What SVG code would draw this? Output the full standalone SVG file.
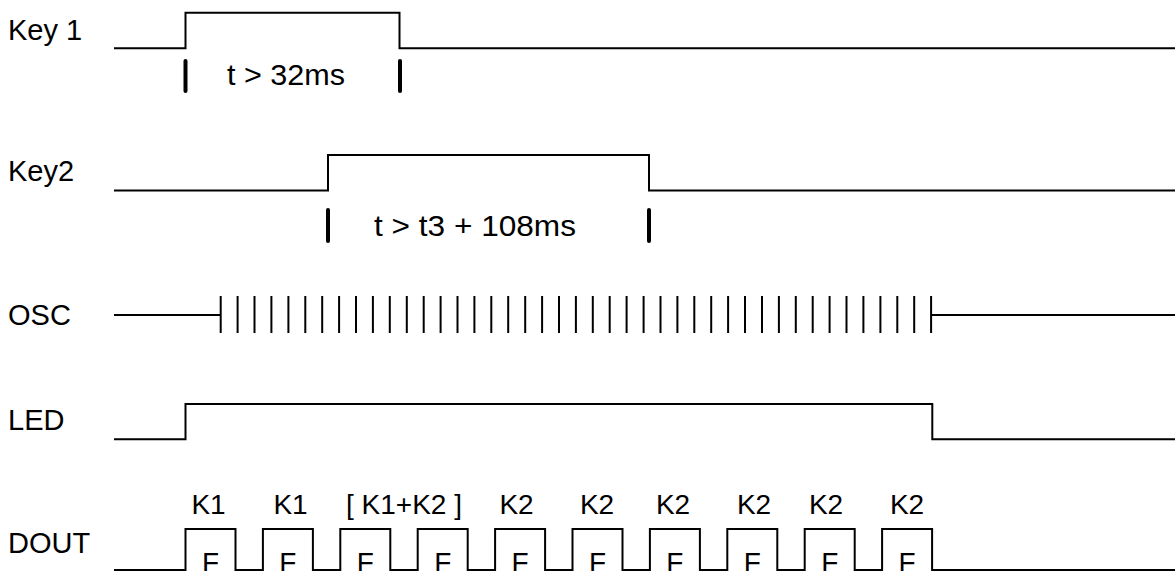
<svg xmlns="http://www.w3.org/2000/svg" width="1175" height="571" viewBox="0 0 1175 571">
<style>
  .lbl { font-family: "Liberation Sans", Arial, sans-serif; font-size: 29px; fill: #000; }
  .sm { font-family: "Liberation Sans", Arial, sans-serif; font-size: 28px; fill: #000; }
  .big { font-family: "Liberation Sans", Arial, sans-serif; font-size: 30px; fill: #000; }
  .mid { text-anchor: middle; }
  .wave { fill: none; stroke: #000; stroke-width: 2; stroke-linejoin: miter; }
  .mark { stroke: #000; stroke-width: 4; stroke-linecap: round; }
  .tick { stroke: #000; stroke-width: 2; }
</style>
<rect width="1175" height="571" fill="#fff"/>

<g id="key1">
  <text class="lbl" x="8" y="40">Key 1</text>
  <path class="wave" d="M114 48.3 H185.5 V12.7 H399.5 V48.3 H1175"/>
  <line class="mark" x1="185.5" y1="61" x2="185.5" y2="91"/>
  <line class="mark" x1="400" y1="61" x2="400" y2="91"/>
  <text class="big" x="227" y="85" textLength="118" lengthAdjust="spacingAndGlyphs">t &gt; 32ms</text>
</g>

<g id="key2">
  <text class="lbl" x="8" y="181">Key2</text>
  <path class="wave" d="M114 190.5 H328 V155 H649 V190.5 H1175"/>
  <line class="mark" x1="328" y1="210" x2="328" y2="241"/>
  <line class="mark" x1="649" y1="210" x2="649" y2="241"/>
  <text class="big" x="374" y="236" textLength="202" lengthAdjust="spacingAndGlyphs">t &gt; t3 + 108ms</text>
</g>

<g id="osc">
  <text class="lbl" x="8" y="325">OSC</text>
  <path class="wave" d="M114 315 H220.7 M931.1 315 H1175"/>
  <path class="tick" d="M220.7 296V333 M237.6 296V333 M254.5 296V333 M271.4 296V333 M288.4 296V333 M305.3 296V333 M322.2 296V333 M339.1 296V333 M356 296V333 M372.9 296V333 M389.8 296V333 M406.8 296V333 M423.7 296V333 M440.6 296V333 M457.5 296V333 M474.4 296V333 M491.3 296V333 M508.2 296V333 M525.2 296V333 M542.1 296V333 M559 296V333 M575.9 296V333 M592.8 296V333 M609.7 296V333 M626.6 296V333 M643.6 296V333 M660.5 296V333 M677.4 296V333 M694.3 296V333 M711.2 296V333 M728.1 296V333 M745 296V333 M762 296V333 M778.9 296V333 M795.8 296V333 M812.7 296V333 M829.6 296V333 M846.5 296V333 M863.4 296V333 M880.4 296V333 M897.3 296V333 M914.2 296V333 M931.1 296V333"/>
</g>

<g id="led">
  <text class="lbl" x="8" y="430">LED</text>
  <path class="wave" d="M114 439.3 H185.5 V404 H932.3 V439.3 H1175"/>
</g>

<g id="dout">
  <text class="lbl" x="8" y="553">DOUT</text>
  <path class="wave" d="M114 570 H185.5 V529 H235.5 V570 H262.9 V529 H312.9 V570 H340.3 V529 H390.3 V570 H417.7 V529 H467.7 V570 H495.1 V529 H545.1 V570 H572.5 V529 H622.5 V570 H649.9 V529 H699.9 V570 H727.3 V529 H777.3 V570 H804.7 V529 H854.7 V570 H882.1 V529 H932.1 V570 H1175"/>
  <g class="sm mid">
    <text x="208.5" y="514">K1</text>
    <text x="290.5" y="514">K1</text>
    <text x="404" y="514">[ K1+K2 ]</text>
    <text x="516.5" y="514">K2</text>
    <text x="597" y="514">K2</text>
    <text x="673" y="514">K2</text>
    <text x="754" y="514">K2</text>
    <text x="826" y="514">K2</text>
    <text x="907" y="514">K2</text>
  </g>
  <g class="sm mid">
    <text x="210.5" y="572">F</text>
    <text x="287.9" y="572">F</text>
    <text x="365.3" y="572">F</text>
    <text x="442.7" y="572">F</text>
    <text x="520.1" y="572">F</text>
    <text x="597.5" y="572">F</text>
    <text x="674.9" y="572">F</text>
    <text x="752.3" y="572">F</text>
    <text x="829.7" y="572">F</text>
    <text x="907.1" y="572">F</text>
  </g>
</g>
</svg>
